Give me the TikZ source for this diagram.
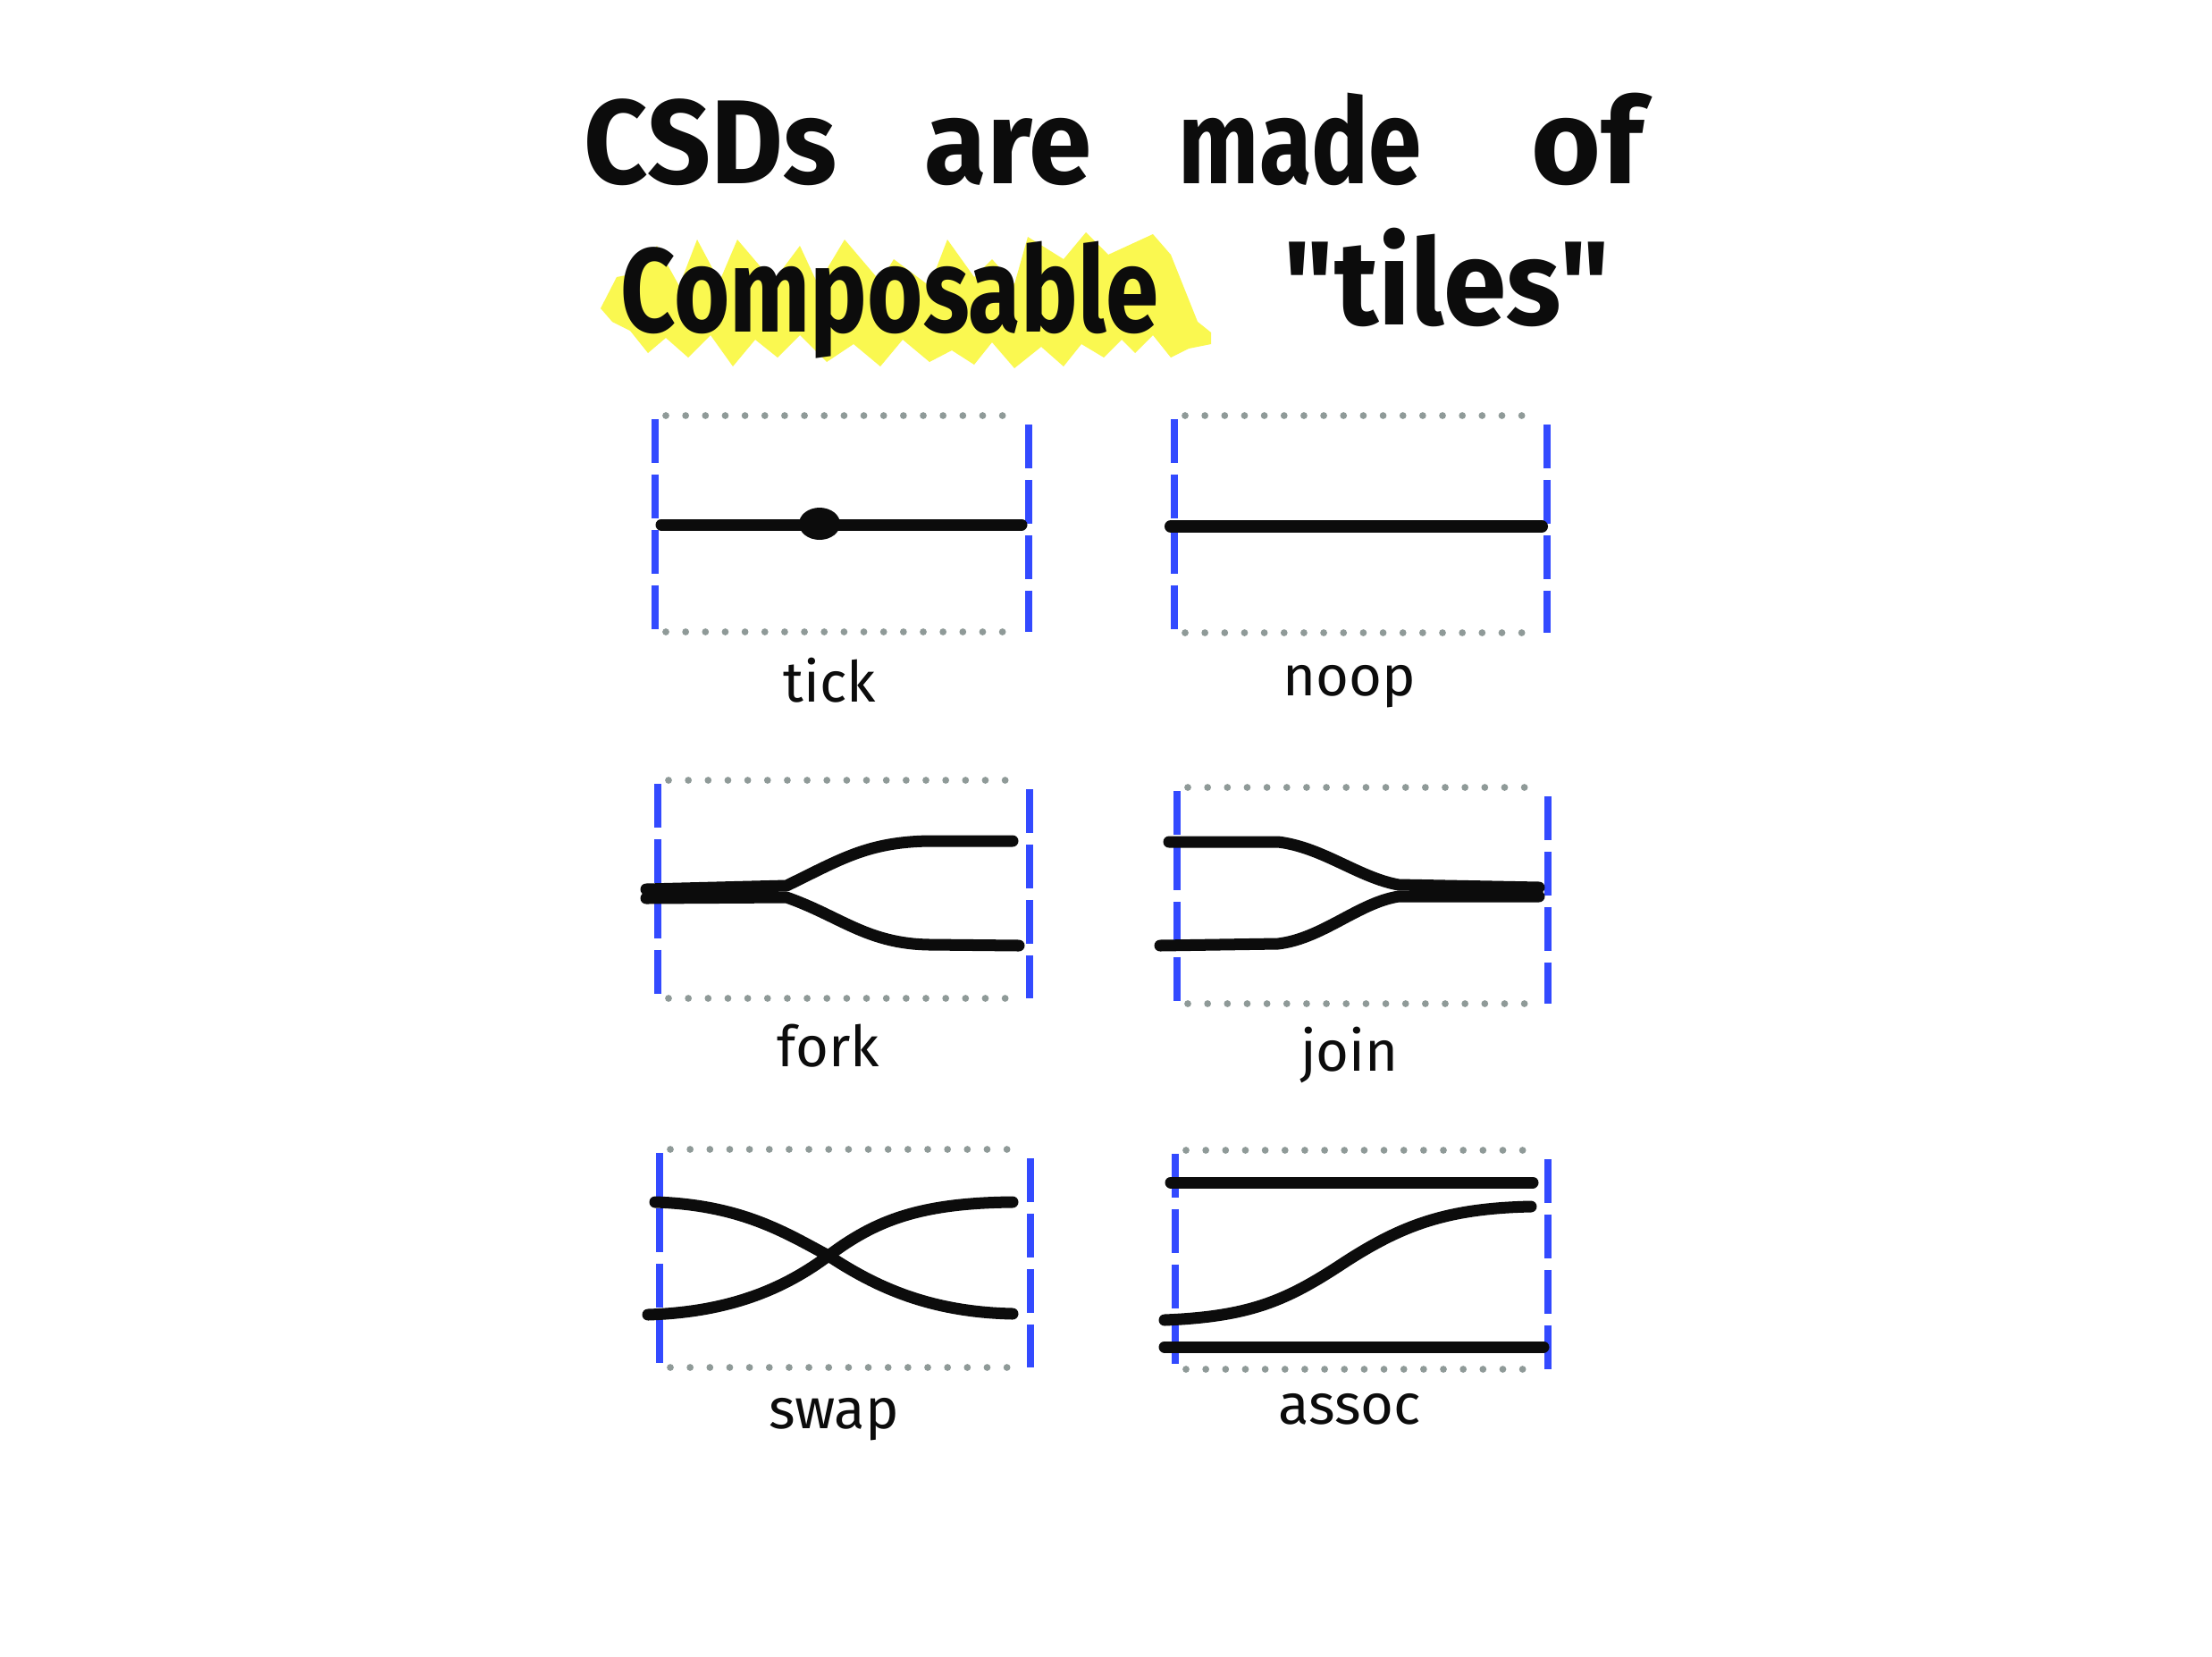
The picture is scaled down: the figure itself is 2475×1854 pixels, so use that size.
\documentclass[tikz,border=0pt]{standalone}
\usepackage{fontspec}
\setmainfont{Fira Sans}
\newfontfamily\plainfira{Fira Sans}
\definecolor{tileblue}{RGB}{51,74,255}
\definecolor{dotgray}{RGB}{143,154,152}
\definecolor{hilite}{RGB}{250,248,80}
\definecolor{ink}{RGB}{12,12,12}
\newcommand\tileframe[5]{%
  \coordinate (#5nw) at (#1,#2);
  \coordinate (#5se) at (#3,#4);
  \draw[dotrow] (#1+12,#2) -- (#3-8,#2);
  \draw[dotrow] (#1+12,#4) -- (#3-8,#4);
  \draw[bluedash] (#1,#2+4) -- (#1,#4+6);
  \draw[bluedash] (#3,#2+10) -- (#3,#4);
}
\begin{document}
\begin{tikzpicture}[x=0.01cm,y=-0.01cm,
  wire/.style={line width=3.7pt,line cap=round,line join=round,draw=ink},
  bluedash/.style={line width=2.1pt,draw=tileblue,dash pattern=on 14pt off 3.6pt},
  dotrow/.style={line width=2.2pt,draw=dotgray,line cap=round,dash pattern=on 0pt off 6.3pt},
  titletxt/.style={anchor=base west,inner sep=0pt,text=ink,font=\fontsize{38}{40}\selectfont\bfseries},
  lbl/.style={anchor=base,inner sep=0pt,text=ink,font=\fontsize{18}{20}\selectfont}]
\useasboundingbox[fill=white] (0,0) rectangle (2475,1854);

% highlight
\fill[hilite] (672,345) -- (690,310) -- (715,305) -- (735,275) -- (760,320) -- (780,268) -- (805,315) -- (825,268) -- (865,315) -- (895,275) -- (915,318) -- (945,268) -- (985,315) -- (1000,290) -- (1040,320) -- (1060,268) -- (1090,310) -- (1110,290) -- (1135,318) -- (1150,265) -- (1190,290) -- (1215,260) -- (1240,285) -- (1290,262) -- (1310,285) -- (1340,360) -- (1355,372) -- (1355,385) -- (1330,390) -- (1310,400) -- (1290,375) -- (1270,395) -- (1255,380) -- (1235,400) -- (1210,385) -- (1190,410) -- (1165,388) -- (1135,412) -- (1110,383) -- (1090,408) -- (1065,392) -- (1040,405) -- (1010,380) -- (985,410) -- (955,385) -- (925,405) -- (895,375) -- (870,400) -- (845,380) -- (820,410) -- (795,375) -- (770,400) -- (745,378) -- (725,395) -- (705,370) -- (685,360) -- cycle;

% title
\node[titletxt] (t1) at (653,205) {\scalebox{0.93}[1]{CSDs}};
\node[titletxt] (t2) at (1034,205) {\scalebox{0.95}[1]{are}};
\node[titletxt] (t3) at (1318,205) {\scalebox{0.8}[1]{made}};
\node[titletxt] (t4) at (1713,205) {of};
\node[titletxt] (t5) at (694,371) {\scalebox{0.8}[1]{Composable}};
\node[titletxt] (t6) at (1436,363) {\plainfira\bfseries\scalebox{0.95}[1]{"tiles"}};

% frames
\tileframe{733}{465}{1151}{707}{tick}
\tileframe{1314}{465}{1731}{708}{noop}
\tileframe{736}{873}{1152}{1117}{fork}
\tileframe{1317}{881}{1732}{1123}{join}
\tileframe{738}{1286}{1153}{1530}{swap}
\tileframe{1315}{1287}{1732}{1532}{assoc}

% tick
\draw[wire] (740,587) -- (1143,587);
\fill[ink] (917,586) ellipse [x radius=23, y radius=18];
% noop
\draw[wire,line width=4pt] (1310,589) -- (1725,589);
% fork
\draw[wire] (723,995) -- (880,991) .. controls (940,962) and (970,942) .. (1040,941) -- (1133,941);
\draw[wire] (723,1005) -- (880,1004) .. controls (940,1025) and (970,1056) .. (1040,1057) -- (1140,1058);
% join
\draw[wire] (1308,942) -- (1430,942) .. controls (1480,948) and (1520,982) .. (1565,990) -- (1722,993);
\draw[wire] (1298,1058) -- (1430,1056) .. controls (1480,1050) and (1520,1010) .. (1565,1003) -- (1722,1003);
% swap
\draw[wire] (733,1345) .. controls (830,1348) and (880,1380) .. (927,1405) .. controls (980,1440) and (1040,1468) .. (1133,1470);
\draw[wire] (725,1471) .. controls (820,1468) and (880,1440) .. (927,1405) .. controls (980,1365) and (1030,1346) .. (1133,1345);
% assoc
\draw[wire] (1310,1323) -- (1715,1323);
\draw[wire] (1303,1477) .. controls (1400,1473) and (1440,1455) .. (1505,1412) .. controls (1570,1370) and (1620,1352) .. (1713,1350);
\draw[wire] (1303,1507) -- (1727,1507);

% labels
\node[lbl] (ltick) at (928,785) {tick};
\node[lbl] (lnoop) at (1510,778) {noop};
\node[lbl] (lfork) at (927,1193) {fork};
\node[lbl] (ljoin) at (1510,1198) {join};
\node[lbl] (lswap) at (933,1598) {swap};
\node[lbl] (lassoc) at (1510,1593) {assoc};
\end{tikzpicture}
\end{document}
